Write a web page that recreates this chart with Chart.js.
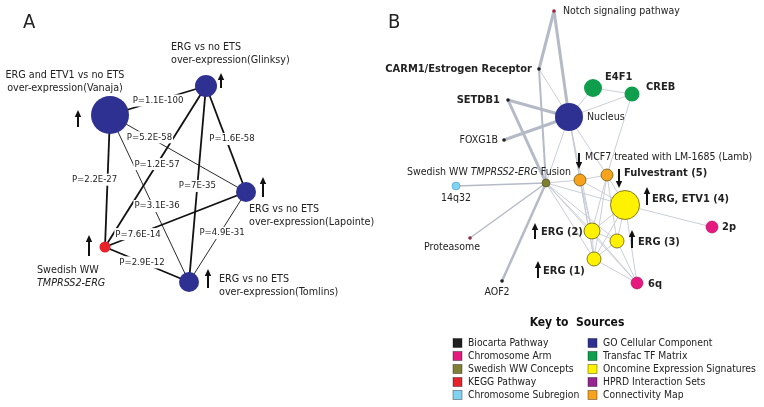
<!DOCTYPE html>
<html lang="en">
<head>
    <meta charset="UTF-8">
    <title>ERG concept networks</title>
    <script src="https://cdn.jsdelivr.net/npm/chart.js"></script>
    <style>
        body { margin: 0; background: #fff; }
        canvas { display: block; }
    </style>
</head>
<body>
    <canvas id="net" width="764" height="407"></canvas>

    <script>
        // ---- panel A: concept overlap network ----
        const aNodes = ['Vanaja', 'Glinksy', 'Lapointe', 'Tomlins', 'Swedish WW'];
        const aX = [110, 206, 246, 189, 105];
        const aY = [115, 86, 192, 282, 247];
        const aSources = ['GO Cellular Component', 'GO Cellular Component', 'GO Cellular Component', 'GO Cellular Component', 'KEGG Pathway'];
        const aEdges = [[0, 1], [0, 2], [1, 2], [1, 4], [1, 3], [0, 4], [0, 3], [2, 4], [2, 3], [4, 3]];
        const aPValues = ['P=1.1E-100', 'P=5.2E-58', 'P=1.6E-58', 'P=1.2E-57', 'P=7E-35', 'P=2.2E-27', 'P=3.1E-36', 'P=7.6E-14', 'P=4.9E-31', 'P=2.9E-12'];

        // ---- panel B: molecular concept map ----
        const bNodes = ['Notch signaling pathway', 'CARM1/Estrogen Receptor', 'E4F1', 'CREB', 'SETDB1', 'Nucleus', 'FOXG1B',
            'Swedish WW TMPRSS2-ERG Fusion', '14q32', 'MCF7 treated with LM-1685 (Lamb)', 'Fulvestrant (5)', 'ERG, ETV1 (4)',
            '2p', 'ERG (2)', 'ERG (3)', 'ERG (1)', '6q', 'Proteasome', 'AOF2'];
        const bX = [554, 539, 593, 632, 508, 569, 504, 546, 456, 580, 607, 625, 712, 592, 617, 594, 637, 470, 502];
        const bY = [11, 69, 88, 94, 100, 117, 140, 183, 186, 180, 175, 205, 227, 231, 241, 259, 283, 238, 281];
        const bSources = ['KEGG Pathway', 'Biocarta Pathway', 'Transfac TF Matrix', 'Transfac TF Matrix', 'Biocarta Pathway',
            'GO Cellular Component', 'Biocarta Pathway', 'Swedish WW Concepts', 'Chromosome Subregion', 'Connectivity Map',
            'Connectivity Map', 'Oncomine Expression Signatures', 'Chromosome Arm', 'Oncomine Expression Signatures',
            'Oncomine Expression Signatures', 'Oncomine Expression Signatures', 'Chromosome Arm', 'HPRD Interaction Sets', 'Biocarta Pathway'];
        const bEdges = [
            [0, 1], [0, 5], [1, 5], [1, 7], [4, 5], [4, 7], [6, 5], [7, 18], [7, 17], [7, 8],
            [5, 2], [5, 3], [2, 3], [3, 10], [5, 7], [5, 9], [5, 10], [5, 13], [5, 15],
            [7, 9], [7, 11], [7, 13], [7, 15], [7, 14], [7, 16],
            [11, 12], [11, 10], [11, 9], [11, 13], [11, 14], [11, 15], [11, 16],
            [9, 10], [9, 13], [9, 15], [10, 13], [10, 14], [10, 15],
            [13, 14], [13, 15], [13, 16], [14, 15], [14, 16], [15, 16]
        ];
        const bHeavy = [[0, 1, 3], [0, 5, 3], [4, 5, 3], [4, 7, 3], [6, 5, 3], [1, 7, 2], [7, 18, 2.5], [7, 17, 1.5], [7, 8, 1.5]];

        const legendItems = ['Biocarta Pathway', 'Chromosome Arm', 'Swedish WW Concepts', 'KEGG Pathway', 'Chromosome Subregion',
            'GO Cellular Component', 'Transfac TF Matrix', 'Oncomine Expression Signatures', 'HPRD Interaction Sets', 'Connectivity Map'];

        // ---- styling ----
        const sourceColor = {
            'Biocarta Pathway': '#1f1f1f', 'Chromosome Arm': '#e6197f', 'Swedish WW Concepts': '#7f8034',
            'KEGG Pathway': '#e8222a', 'Chromosome Subregion': '#7fd3f3', 'GO Cellular Component': '#2e3192',
            'Transfac TF Matrix': '#0e9e4c', 'Oncomine Expression Signatures': '#fff200', 'HPRD Interaction Sets': '#93278f',
            'Connectivity Map': '#f7a21d'
        };
        const aRadius = [19, 11, 10, 10, 5.5];
        const bRadius = [1.8, 1.8, 9, 7.5, 1.8, 14, 1.8, 4, 4, 6, 6, 14.5, 6, 8, 7, 7, 6, 1.8, 1.8];
        const bDotColor = { 0: '#a3233a', 17: '#8a2a4a' };
        const FONT = '"DejaVu Sans Condensed", "DejaVu Sans", sans-serif';

        // label layout: offsets from the node centre
        const aLabels = [
            { lines: ['ERG and ETV1 vs no ETS', 'over-expression(Vanaja)'], dx: -45, dy: -40, align: 'center', arrow: [-32, 12, -5] },
            { lines: ['ERG vs no ETS', 'over-expression(Glinksy)'], dx: -35, dy: -39, align: 'left', arrow: [15, 2, -13] },
            { lines: ['ERG vs no ETS', 'over-expression(Lapointe)'], dx: 3, dy: 17, align: 'left', arrow: [17, 5, -15] },
            { lines: ['ERG vs no ETS', 'over-expression(Tomlins)'], dx: 30, dy: -3, align: 'left', arrow: [19, 6, -13] },
            { lines: ['Swedish WW', [['TMPRSS2-ERG', 'italic']]], dx: -68, dy: 23, align: 'left', arrow: [-16, 9, -12] }
        ];
        const aPLabelPos = [[0.5, 0], [0.29, 0], [0.5, 6], [0.485, 0], [0.51, 0], [0.49, -13], [0.545, 4], [0.766, 0], [0.455, 2], [0.44, 0]];
        const bLabels = [
            { dx: 9, dy: 0, align: 'left' },
            { dx: -7, dy: 0, align: 'right', bold: true },
            { dx: 12, dy: -11, align: 'left', bold: true },
            { dx: 14, dy: -7, align: 'left', bold: true },
            { dx: -8, dy: 0, align: 'right', bold: true },
            { dx: 18, dy: 0, align: 'left' },
            { dx: -6, dy: 0, align: 'right' },
            { dx: 25, dy: -11, align: 'right', parts: [['Swedish WW ', ''], ['TMPRSS2-ERG', 'italic'], [' Fusion', '']] },
            { dx: 0, dy: 12, align: 'center' },
            { dx: 5, dy: -23, align: 'left', arrow: [-1, -27, -11] },
            { dx: 17, dy: -2, align: 'left', bold: true, arrow: [12, -6, 13] },
            { dx: 27, dy: -6, align: 'left', bold: true, arrow: [22, 0, -18] },
            { dx: 10, dy: 0, align: 'left', bold: true },
            { dx: -51, dy: 1, align: 'left', bold: true, arrow: [-57, 8, -8] },
            { dx: 21, dy: 1, align: 'left', bold: true, arrow: [15, 7, -11] },
            { dx: -51, dy: 12, align: 'left', bold: true, arrow: [-56, 19, 2] },
            { dx: 11, dy: 1, align: 'left', bold: true },
            { dx: -18, dy: 9, align: 'center' },
            { dx: -5, dy: 11, align: 'center' }
        ];

        function nodeStyle(src) {
            const c = sourceColor[src];
            if (src === 'Oncomine Expression Signatures' || src === 'Connectivity Map') return [c, '#6b5a10', 0.8];
            if (src === 'Chromosome Arm') return [c, '#a0105a', 0.6];
            if (src === 'Swedish WW Concepts') return [c, '#4a4a1c', 0.6];
            if (src === 'Chromosome Subregion') return [c, '#4a9ab8', 0.6];
            return [c, c, 0];
        }

        const nodePts = [], nodeR = [], nodeFill = [], nodeLine = [], nodeLW = [];
        aNodes.forEach((n, i) => {
            const s = nodeStyle(aSources[i]);
            nodePts.push({ x: aX[i], y: aY[i] }); nodeR.push(aRadius[i]);
            nodeFill.push(s[0]); nodeLine.push(s[1]); nodeLW.push(s[2]);
        });
        bNodes.forEach((n, i) => {
            const s = nodeStyle(bSources[i]);
            const fill = bDotColor[i] || s[0];
            nodePts.push({ x: bX[i], y: bY[i] }); nodeR.push(bRadius[i]);
            nodeFill.push(fill); nodeLine.push(bDotColor[i] || s[1]); nodeLW.push(s[2]);
        });

        const datasets = [{
            data: nodePts, pointRadius: nodeR, pointBackgroundColor: nodeFill,
            pointBorderColor: nodeLine, pointBorderWidth: nodeLW, showLine: false
        }];
        const aThin = [1, 6, 8];
        aEdges.forEach((e, k) => {
            datasets.push({
                data: [{ x: aX[e[0]], y: aY[e[0]] }, { x: aX[e[1]], y: aY[e[1]] }],
                showLine: true, pointRadius: 0, borderColor: '#111',
                borderWidth: aThin.includes(k) ? 0.9 : 1.8
            });
        });
        bEdges.forEach(e => {
            const h = bHeavy.find(w => (w[0] === e[0] && w[1] === e[1]));
            datasets.push({
                data: [{ x: bX[e[0]], y: bY[e[0]] }, { x: bX[e[1]], y: bY[e[1]] }],
                showLine: true, pointRadius: 0,
                borderColor: h ? '#b5bac7' : '#c4c8d3', borderWidth: h ? h[2] : 0.9
            });
        });

        function setFont(ctx, size, style) {
            const it = style && style.includes('italic') ? 'italic ' : '';
            const bd = style && style.includes('bold') ? 'bold ' : '';
            ctx.font = it + bd + size + 'px ' + FONT;
        }
        function drawRich(ctx, x, y, parts, align, size, base) {
            let w = 0;
            parts.forEach(p => { setFont(ctx, size, base + ' ' + p[1]); w += ctx.measureText(p[0]).width; });
            let cx = align === 'center' ? x - w / 2 : align === 'right' ? x - w : x;
            ctx.textAlign = 'left';
            parts.forEach(p => {
                setFont(ctx, size, base + ' ' + p[1]);
                ctx.fillText(p[0], cx, y);
                cx += ctx.measureText(p[0]).width;
            });
        }
        function arrow(ctx, x, y0, y1) {
            // y0 = tail, y1 = tip
            const dir = y1 > y0 ? 1 : -1;
            ctx.strokeStyle = '#111'; ctx.fillStyle = '#111'; ctx.lineWidth = 2;
            ctx.beginPath(); ctx.moveTo(x, y0); ctx.lineTo(x, y1 - dir * 5); ctx.stroke();
            ctx.beginPath(); ctx.moveTo(x, y1); ctx.lineTo(x - 3.2, y1 - dir * 7); ctx.lineTo(x + 3.2, y1 - dir * 7);
            ctx.closePath(); ctx.fill();
        }

        const networkText = {
            id: 'networkText',
            beforeDatasetDraw(chart, args) {
                if (args.index !== 0) return;
                const ctx = chart.ctx, sx = chart.scales.x, sy = chart.scales.y;
                ctx.save();
                ctx.textBaseline = 'middle';
                aEdges.forEach((e, k) => {
                    const t = aPLabelPos[k][0];
                    const px = sx.getPixelForValue(aX[e[0]] + t * (aX[e[1]] - aX[e[0]])) + aPLabelPos[k][1];
                    const py = sy.getPixelForValue(aY[e[0]] + t * (aY[e[1]] - aY[e[0]]));
                    setFont(ctx, 9.5, '');
                    const w = ctx.measureText(aPValues[k]).width;
                    ctx.fillStyle = '#fff';
                    ctx.fillRect(px - w / 2 - 1, py - 6, w + 2, 12);
                    ctx.fillStyle = '#222';
                    ctx.textAlign = 'center';
                    ctx.fillText(aPValues[k], px, py);
                });
                ctx.restore();
            },
            afterDraw(chart) {
                const ctx = chart.ctx, sx = chart.scales.x, sy = chart.scales.y;
                ctx.save();
                ctx.textBaseline = 'middle';
                ctx.fillStyle = '#222';
                setFont(ctx, 20, '');
                ctx.textAlign = 'left';
                ctx.fillText('A', 23, 23);
                ctx.fillText('B', 388, 23);

                aLabels.forEach((l, i) => {
                    const nx = sx.getPixelForValue(aX[i]), ny = sy.getPixelForValue(aY[i]);
                    l.lines.forEach((ln, j) => {
                        ctx.fillStyle = '#222';
                        const parts = typeof ln === 'string' ? [[ln, '']] : ln;
                        drawRich(ctx, nx + l.dx, ny + l.dy + j * 13.5, parts, l.align, 10.7, '');
                    });
                    arrow(ctx, nx + l.arrow[0], ny + l.arrow[1], ny + l.arrow[2]);
                });

                bLabels.forEach((l, i) => {
                    const nx = sx.getPixelForValue(bX[i]), ny = sy.getPixelForValue(bY[i]);
                    ctx.fillStyle = '#222';
                    const parts = l.parts || [[bNodes[i], '']];
                    drawRich(ctx, nx + l.dx, ny + l.dy, parts, l.align, l.bold ? 11 : 10.5, l.bold ? 'bold' : '');
                    if (l.arrow) arrow(ctx, nx + l.arrow[0], ny + l.arrow[1], ny + l.arrow[2]);
                });

                // key to sources
                ctx.fillStyle = '#111';
                drawRich(ctx, 577, 323, [['Key to  Sources', '']], 'center', 12, 'bold');
                legendItems.forEach((name, i) => {
                    const col = Math.floor(i / 5), row = i % 5;
                    const x = col ? 588 : 453, y = 343 + row * 13;
                    ctx.fillStyle = sourceColor[name];
                    ctx.fillRect(x, y - 4.5, 9, 9);
                    ctx.strokeStyle = 'rgba(0,0,0,0.45)'; ctx.lineWidth = 0.8;
                    ctx.strokeRect(x, y - 4.5, 9, 9);
                    ctx.fillStyle = '#222';
                    drawRich(ctx, x + 15, y, [[name, '']], 'left', 10.3, '');
                });
                ctx.restore();
            }
        };

        new Chart(document.getElementById('net'), {
            type: 'scatter',
            data: { datasets: datasets },
            options: {
                responsive: false,
                animation: false,
                layout: { padding: 0, autoPadding: false },
                plugins: { legend: { display: false }, tooltip: { enabled: false } },
                scales: {
                    x: { type: 'linear', min: 0, max: 764, display: false },
                    y: { type: 'linear', min: 0, max: 407, reverse: true, display: false }
                }
            },
            plugins: [networkText]
        });
    </script>
</body>
</html>
